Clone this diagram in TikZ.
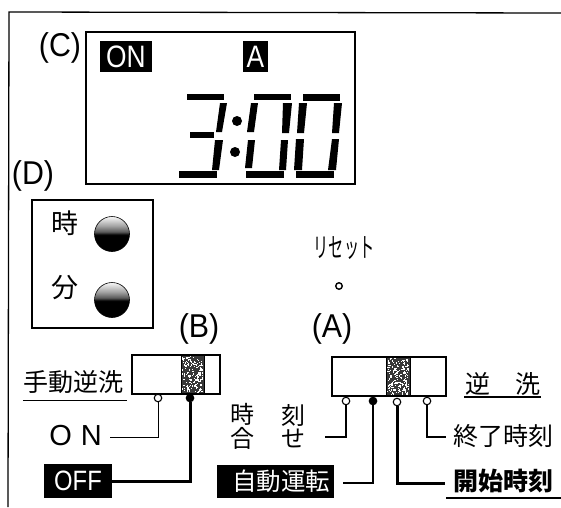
\documentclass[tikz,border=0pt]{standalone}
\usepackage{fontspec}
\setmainfont{Liberation Sans}
\newfontfamily\cjk{Noto Sans CJK JP}
\newcommand{\fs}[1]{\fontsize{#1}{#1}\selectfont}
\pgfdeclareverticalshading{knobshade}{100bp}{color(0bp)=(black); color(49bp)=(black); color(53bp)=(black!65); color(62bp)=(black!35); color(74bp)=(black!5); color(100bp)=(black!5)}
\tikzset{
  frameline/.style={line width=1.3pt},
  boxline/.style={draw,line width=1.6pt},
  seg/.style={fill=black,draw=none},
  lbl/.style={inner sep=0pt,font=\fs{33},xscale=.92,transform shape},
  jp/.style={inner sep=0pt,font=\cjk\fs{24}},
  inv/.style={fill=black,text=white,inner sep=0pt,anchor=center},
  pinopen/.style={circle,draw,fill=white,line width=1.1pt,minimum size=7.5pt,inner sep=0pt},
  pinfull/.style={circle,draw,fill=black,line width=1.1pt,minimum size=7.5pt,inner sep=0pt},
  thinwire/.style={line width=1.3pt},
  hairwire/.style={line width=1pt},
  thickwire/.style={line width=3pt},
  knob/.style={circle,draw,line width=.6pt,minimum size=35pt,inner sep=0pt,shading=knobshade},
  slider/.style={fill=black!78,draw=none},
  uline/.style={line width=1.3pt}
}
\begin{document}
\begin{tikzpicture}[x=1pt,y=-1pt]
\useasboundingbox (0,0) rectangle (561,507);
\fill[white] (0,0) rectangle (561,507);
% outer frame
\draw[frameline] (561,13) -- (9,12) -- (8,507);
% display
\node[boxline,minimum width=269pt,minimum height=152pt,inner sep=0pt] (lcd) at (220.5,108) {};
\node[lbl] (c) at (60,48) {(C)};
\node[inv,minimum width=52pt,minimum height=31pt] (on) at (126,56.5) {\scalebox{.85}[1]{\fs{31}ON}};
\node[inv,minimum width=25pt,minimum height=31pt] (a) at (255.5,56.5) {\scalebox{.85}[1]{\fs{31}A}};
% digit 3
\fill[seg] (187,94) -- (224,94) -- (224,100) -- (187,100) -- cycle;
\fill[seg] (220,103) -- (227,103) -- (222,132) -- (216,132) -- cycle;
\fill[seg] (190,132) -- (214,132) -- (214,138) -- (190,138) -- cycle;
\fill[seg] (215,140) -- (223,140) -- (219,170) -- (212,170) -- cycle;
\fill[seg] (179,171) -- (217,171) -- (217,178) -- (179,178) -- cycle;
% colon
\fill[seg] (237,121) circle (5pt);
\fill[seg] (235,152) circle (5pt);
% digit 0
\fill[seg] (254,94) -- (291,94) -- (291,100) -- (254,100) -- cycle;
\fill[seg] (251,103) -- (258,103) -- (254,132) -- (247,132) -- cycle;
\fill[seg] (248,140) -- (255,140) -- (252,168) -- (245,168) -- cycle;
\fill[seg] (246,171) -- (284,171) -- (284,178) -- (246,178) -- cycle;
\fill[seg] (283,103) -- (292,103) -- (289,133) -- (282,133) -- cycle;
\fill[seg] (281,140) -- (288,140) -- (286,170) -- (279,170) -- cycle;
% digit 0
\fill[seg] (303,94) -- (340,94) -- (340,101) -- (303,101) -- cycle;
\fill[seg] (299,103) -- (307,103) -- (304,133) -- (297,133) -- cycle;
\fill[seg] (296,139) -- (304,139) -- (302,170) -- (294,170) -- cycle;
\fill[seg] (296,171) -- (334,171) -- (334,178) -- (296,178) -- cycle;
\fill[seg] (334,103) -- (342,103) -- (339,133) -- (332,133) -- cycle;
\fill[seg] (332,139) -- (339,139) -- (336,170) -- (328,170) -- cycle;
% panel D
\node[lbl] (d) at (33,176) {(D)};
\node[boxline,minimum width=121pt,minimum height=128pt,inner sep=0pt] (panel) at (92.5,264) {};
\node[jp,font=\cjk\fs{27}] (hour) at (65,223) {時};
\node[jp,font=\cjk\fs{27}] (min) at (65,288) {分};
\node[knob] (k1) at (112,234) {};
\node[knob] (k2) at (112,300) {};
% reset
\node[inner sep=0pt] (reset) at (344,248) {\scalebox{.56}[1]{\cjk\fs{27}リセット}};
\node[circle,draw,line width=1.4pt,minimum size=6.5pt,inner sep=0pt] (hole) at (339,286) {};
% switch B
\node[lbl] (b) at (199,329) {(B)};
\fill[slider] (181,355) rectangle (204,394);
\pgfmathsetseed{4711}
\foreach \i in {1,...,170}{
  \pgfmathsetmacro{\px}{182+20*rnd}
  \pgfmathsetmacro{\py}{356+36*rnd}
  \fill[white] (\px,\py) rectangle ++(1.2,1.2);
}
\node[boxline,minimum width=88pt,minimum height=39pt,inner sep=0pt] (swb) at (176,374.5) {};
\draw[line width=1pt] (181,355) -- (181,394) (204,355) -- (204,394);
\node[jp,font=\cjk\fs{25}] (manual) at (73,382) {手動逆洗};
\draw[uline] (manual.south west)++(0,7) -- ++(104,0);
\node[pinopen] (b1) at (158,398) {};
\node[pinfull] (b2) at (190,398) {};
\node[inner sep=0pt,font=\fs{29}] (bon) at (75.5,436) {O\hspace{9pt}N};
\coordinate (bonend) at (110,437);
\node[inv,minimum width=68pt,minimum height=34pt] (off) at (78,481) {\scalebox{.85}[1]{\fs{28}OFF}};
\draw[hairwire] (b1) |- (bonend);
\draw[thickwire] (b2) |- (off.east);
% switch A
\node[lbl] (a2) at (332,329) {(A)};
\fill[slider] (386,357) rectangle (410,396);
\foreach \i in {1,...,180}{
  \pgfmathsetmacro{\px}{387+21*rnd}
  \pgfmathsetmacro{\py}{358+36*rnd}
  \fill[white] (\px,\py) rectangle ++(1.2,1.2);
}
\node[boxline,minimum width=114pt,minimum height=39pt,inner sep=0pt] (swa) at (389,376.5) {};
\draw[line width=1pt] (386,357) -- (386,396) (410,357) -- (410,396);
\node[jp,font=\cjk\fs{25}] (rev1) at (478,384) {逆};
\node[jp,font=\cjk\fs{25}] (rev2) at (528,384) {洗};
\draw[uline] (464,397) -- (541,397);
\node[pinopen] (a1p) at (346,401) {};
\node[pinfull] (a2p) at (373,401) {};
\node[pinopen] (a3p) at (397,402) {};
\node[pinopen] (a4p) at (427,401) {};
\node[jp] (ji) at (242,414) {時};
\node[jp] (koku) at (293,415) {刻};
\node[jp] (go) at (242,438) {合};
\node[jp] (se) at (293,438) {せ};
\coordinate (setend) at (325,437);
\coordinate (autoend) at (343,483);
\coordinate (startend) at (445,483);
\coordinate (endend) at (446,437);
\node[jp,font=\cjk\fs{25}] (endt) at (503,436) {終了時刻};
\node[jp,font=\cjk\bfseries\fs{25}] (start) at (503,481) {開始時刻};
\draw[uline,line width=1.8pt] (446,498) -- (561,498);
\node[inv,minimum width=117pt,minimum height=33pt] (auto) at (275.5,481.5) {\hspace*{11pt}\cjk\fs{24.5}自動運転};
\draw[thinwire] (a1p) |- (setend);
\draw[thinwire] (a2p) |- (autoend);
\draw[thickwire] (a3p) |- (startend);
\draw[thinwire] (a4p) |- (endend);
\end{tikzpicture}
\end{document}
